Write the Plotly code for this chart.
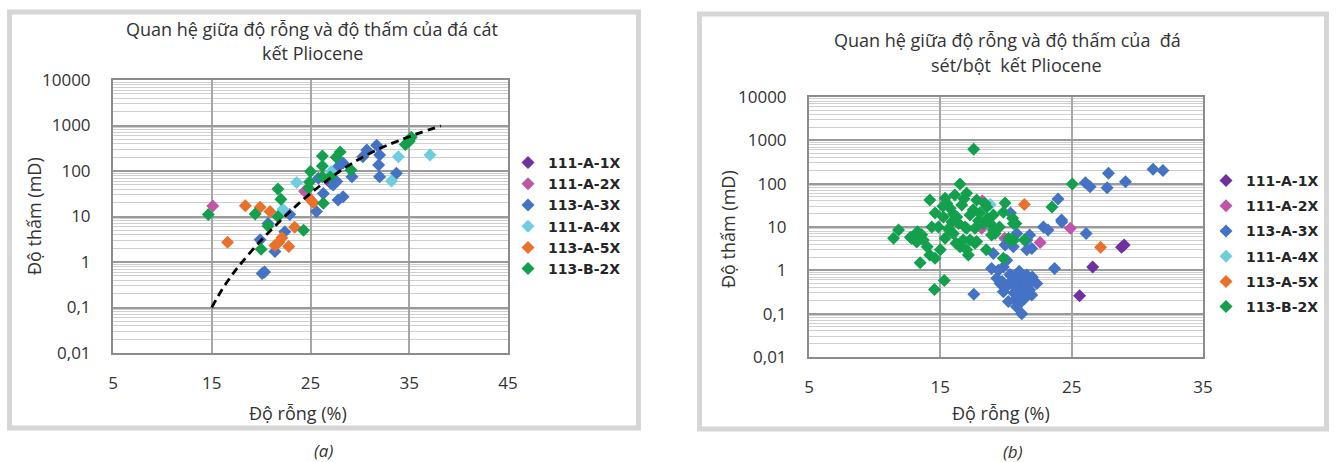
import plotly.graph_objects as go

W, H = 1336, 462

# ---------------- data: chart (a) sandstone ----------------
a_1X_x = [27.0]
a_1X_y = [55]
a_2X_x = [15.1, 24.4]
a_2X_y = [17, 36]
a_3X_x = [20.1, 20.35, 19.9, 21.4, 22.4, 22.9, 20.7, 25.6, 26.3, 27.8, 28.3, 25.8,
          27.3, 27.65, 28.3, 27.8, 29.2, 30.7, 31.7, 30.3, 32.0, 31.9, 32.0, 33.7]
a_3X_y = [0.56, 0.6, 3.1, 1.7, 4.6, 11, 7.0, 12.8, 32, 23, 27, 69,
          49, 59, 150, 124, 75, 290, 370, 205, 225, 135, 75, 89]
a_4X_x = [22.2, 23.6, 27.1, 33.2, 33.9, 37.1]
a_4X_y = [14.5, 56, 97, 60, 205, 225]
a_5X_x = [16.6, 18.4, 19.9, 20.9, 21.4, 22.1, 21.8, 22.8, 23.4, 24.9, 25.3]
a_5X_y = [2.7, 17.3, 16, 12.8, 2.3, 3.4, 2.7, 2.2, 5.8, 25, 20]
a_B2X_x = [14.65, 19.4, 20.0, 20.7, 21.7, 22.0, 21.7, 24.3, 26.3, 25.0, 24.9,
           24.8, 26.2, 26.2, 26.2, 27.6, 28.0, 29.1, 27.0, 34.6, 35.0, 35.2]
a_B2X_y = [11, 11.3, 1.9, 6.2, 40, 24, 10, 5.0, 19.6, 97, 57,
           42, 214, 128, 75, 200, 260, 105, 75, 380, 450, 550]
trend_x = [15, 16, 17, 18, 20, 22, 24, 26, 28, 30, 32, 34, 36, 38.2]
trend_y = [0.1, 0.24, 0.5, 0.95, 3.0, 8.3, 21, 48, 100, 186, 310, 470, 680, 980]

# ---------------- data: chart (b) claystone/siltstone ----------------
b_1X_x = [25.6, 26.6, 28.8, 29.0]
b_1X_y = [0.26, 1.2, 3.4, 3.85]
b_2X_x = [18.2, 18.15, 19.9, 22.6, 24.9]
b_2X_y = [40, 9.3, 5.5, 4.4, 9.3]
b_3X_x = [31.2, 31.95, 27.8, 29.1, 26.05, 26.4, 27.7, 23.96, 24.23, 26.1,
          23.7, 17.55, 22.85, 23.2, 24.25, 21.58, 21.8, 20.82, 20.56, 19.93,
          21.58, 21.96, 19.04, 19.8, 19.42, 18.9, 20.34, 20.06, 21.07, 20.3,
          21.58, 22.34, 20.69, 20.18, 21.2, 20.8, 19.55, 19.3, 21.58, 20.94,
          21.96, 19.8, 19.7, 20.6, 21.3, 20.0, 21.0, 21.4, 20.4, 21.9,
          20.7, 21.3, 20.5, 21.5, 20.9, 21.8, 20.3, 22.0, 21.2, 20.6,
          21.0, 21.6]
b_3X_y = [215, 200, 175, 111, 105, 85, 81, 44, 14.5, 7.1,
          1.1, 0.28, 10, 8.5, 13, 5.0, 6.5, 7.1, 3.5, 3.85,
          3.0, 3.2, 2.46, 1.2, 1.0, 1.1, 21, 1.7, 0.66, 0.5,
          0.42, 0.5, 0.21, 0.19, 0.1, 0.145, 0.5, 0.66, 0.78, 0.85,
          0.27, 0.32, 0.55, 0.3, 0.32, 0.42, 0.17, 0.22, 0.75, 0.55,
          0.55, 0.45, 0.6, 0.5, 0.4, 0.35, 0.8, 0.7, 0.25, 0.45,
          0.95, 0.65]
b_4X_x = [18.8]
b_4X_y = [33]
b_5X_x = [21.4, 27.2]
b_5X_y = [33, 3.4]
b_B2X_x = [17.54, 25.05, 23.5, 14.55, 15.3, 13.46, 11.44, 11.82, 12.72, 13.26,
           14.2, 16.5, 15.36, 16.1, 17.0, 17.77, 18.53, 16.63, 15.74, 14.6,
           15.23, 16.25, 17.26, 18.0, 19.04, 18.8, 19.17, 18.27, 14.35, 13.58,
           12.82, 13.7, 14.85, 15.36, 15.99, 16.75, 17.77, 16.5, 17.13, 14.2,
           14.6, 16.88, 15.87, 17.64, 19.8, 19.93, 19.8, 20.5, 20.75, 20.3,
           20.6, 21.4, 20.2, 17.0, 17.26, 17.64, 19.04, 18.9, 20.56, 15.5,
           16.8, 17.5, 16.0, 15.2, 18.4, 17.9, 16.4, 15.6, 16.2, 17.0,
           15.0, 14.0, 13.2, 18.5, 19.5, 18.6]
b_B2X_y = [620, 98, 29, 0.36, 0.58, 1.5, 5.5, 8.5, 5.8, 7.8,
           42, 98, 46, 55, 60, 42, 29, 32, 27, 21,
           17, 17, 19, 21, 19, 12, 7.1, 12, 10, 6.6,
           5.5, 5.0, 10, 5.5, 7.1, 5.0, 4.6, 3.5, 2.25, 2.25,
           1.9, 10, 13, 9.3, 1.9, 36, 22, 16, 12, 5.0,
           5.0, 5.0, 5.5, 9.3, 5.0, 4.2, 8.5, 6.5, 12, 35,
           45, 25, 20, 30, 35, 14, 12, 9, 4.2, 3.0,
           3.0, 3.5, 4.5, 3.0, 10, 16]

series_names = ["111-A-1X", "111-A-2X", "113-A-3X", "111-A-4X", "113-A-5X", "113-B-2X"]
series_colors = ["#7030A0", "#C055AA", "#4472C4", "#6FCDE0", "#E9712C", "#13A04C"]

y_tickvals = [0.01, 0.1, 1, 10, 100, 1000, 10000]
y_ticktext = ["0,01", "0,1", "1", "10", "100", "1000", "10000"]

FONT = "Open Sans"
LEGFONT = "DejaVu Sans"
TXT = "#333333"

fig = go.Figure()

a_data = [(a_1X_x, a_1X_y), (a_2X_x, a_2X_y), (a_3X_x, a_3X_y),
          (a_4X_x, a_4X_y), (a_5X_x, a_5X_y), (a_B2X_x, a_B2X_y)]
b_data = [(b_1X_x, b_1X_y), (b_2X_x, b_2X_y), (b_3X_x, b_3X_y),
          (b_4X_x, b_4X_y), (b_5X_x, b_5X_y), (b_B2X_x, b_B2X_y)]

for (xs, ys), name, col in zip(a_data, series_names, series_colors):
    fig.add_trace(go.Scatter(x=xs, y=ys, mode="markers", name=name,
                             marker=dict(symbol="diamond", size=10, color=col, line=dict(width=0)),
                             xaxis="x", yaxis="y", legend="legend", legendgroup="a" + name,
                             hoverinfo="skip"))

fig.add_trace(go.Scatter(x=trend_x, y=trend_y, mode="lines", showlegend=False,
                         line=dict(color="black", width=2.8, dash="8px,5px", shape="spline"),
                         xaxis="x", yaxis="y", hoverinfo="skip"))

for (xs, ys), name, col in zip(b_data, series_names, series_colors):
    fig.add_trace(go.Scatter(x=xs, y=ys, mode="markers", name=name,
                             marker=dict(symbol="diamond", size=10, color=col, line=dict(width=0)),
                             xaxis="x2", yaxis="y2", legend="legend2", legendgroup="b" + name,
                             hoverinfo="skip"))

def px_x(p):
    return p / W

def px_y(p):
    return 1 - p / H

def xaxis_cfg(rng, domain):
    return dict(domain=domain, range=rng, tick0=5, dtick=10, showgrid=True,
                gridcolor="#a6a6a6", gridwidth=1.5, zeroline=False,
                showline=True, linecolor="#8c8c8c", linewidth=2, mirror=True,
                ticks="", ticklabelstandoff=14, automargin=False,
                tickfont=dict(family=FONT, size=17, color=TXT))

def yaxis_cfg(domain, anchor):
    return dict(domain=domain, anchor=anchor, type="log", range=[-2, 4],
                tickvals=y_tickvals, ticktext=y_ticktext,
                showgrid=True, gridcolor="#9a9a9a", gridwidth=2,
                minor=dict(dtick="D1", showgrid=True, gridcolor="#cfcfcf", gridwidth=1),
                zeroline=False, showline=True, linecolor="#8c8c8c", linewidth=2, mirror=True,
                ticks="", ticklabelstandoff=17, automargin=False,
                tickfont=dict(family=FONT, size=17, color=TXT))

xa = xaxis_cfg([5, 45], [px_x(113), px_x(508)])
xa["anchor"] = "y"
xb = xaxis_cfg([5, 35], [px_x(809), px_x(1203)])
xb["anchor"] = "y2"

fig.update_layout(
    width=W, height=H, autosize=False,
    margin=dict(l=0, r=0, t=0, b=0, pad=0, autoexpand=False),
    paper_bgcolor="white", plot_bgcolor="white",
    font=dict(family=FONT, color=TXT),
    xaxis=xa,
    yaxis=yaxis_cfg([px_y(353), px_y(80)], "x"),
    xaxis2=xb,
    yaxis2=yaxis_cfg([px_y(357), px_y(97)], "x2"),
    legend=dict(x=px_x(508), y=px_y(147), xanchor="left", yanchor="top",
                font=dict(family=LEGFONT, size=14, color="#262626", weight="bold"),
                tracegroupgap=0, bgcolor="rgba(0,0,0,0)", itemclick=False),
    legend2=dict(x=px_x(1206), y=px_y(165), xanchor="left", yanchor="top",
                 font=dict(family=LEGFONT, size=14, color="#262626", weight="bold"),
                 tracegroupgap=4, bgcolor="rgba(0,0,0,0)", itemclick=False),
    hovermode=False,
)

# frames around the two panels
fig.add_shape(type="rect", xref="paper", yref="paper",
              x0=px_x(9.5), x1=px_x(638.5), y0=px_y(428), y1=px_y(12),
              line=dict(color="#d6d6d6", width=5), fillcolor="rgba(0,0,0,0)", layer="below")
fig.add_shape(type="rect", xref="paper", yref="paper",
              x0=px_x(699.5), x1=px_x(1326.5), y0=px_y(429), y1=px_y(14),
              line=dict(color="#d6d6d6", width=5), fillcolor="rgba(0,0,0,0)", layer="below")

def ann(text, x, y, size=18, angle=0, italic=False):
    fig.add_annotation(text=text, x=px_x(x), y=px_y(y), xref="paper", yref="paper",
                       showarrow=False, xanchor="center", yanchor="middle", textangle=angle,
                       font=dict(family=FONT, size=size, color=TXT,
                                 style="italic" if italic else "normal"))

ann("Quan hệ giữa độ rỗng và độ thấm của đá cát", 312, 29)
ann("kết Pliocene", 312, 53)
ann("Quan hệ giữa độ rỗng và độ thấm của  đá", 1008, 40)
ann("sét/bột  kết Pliocene", 1016, 65)
ann("Độ thấm (mD)", 34, 216, angle=-90)
ann("Độ thấm (mD)", 728, 229, angle=-90)
ann("Độ rỗng (%)", 298, 413)
ann("Độ rỗng (%)", 1001, 413)
ann("(a)", 323, 450, size=17, italic=True)
ann("(b)", 1013, 451, size=17, italic=True)

fig.write_html("out.html", config={"displayModeBar": False})
